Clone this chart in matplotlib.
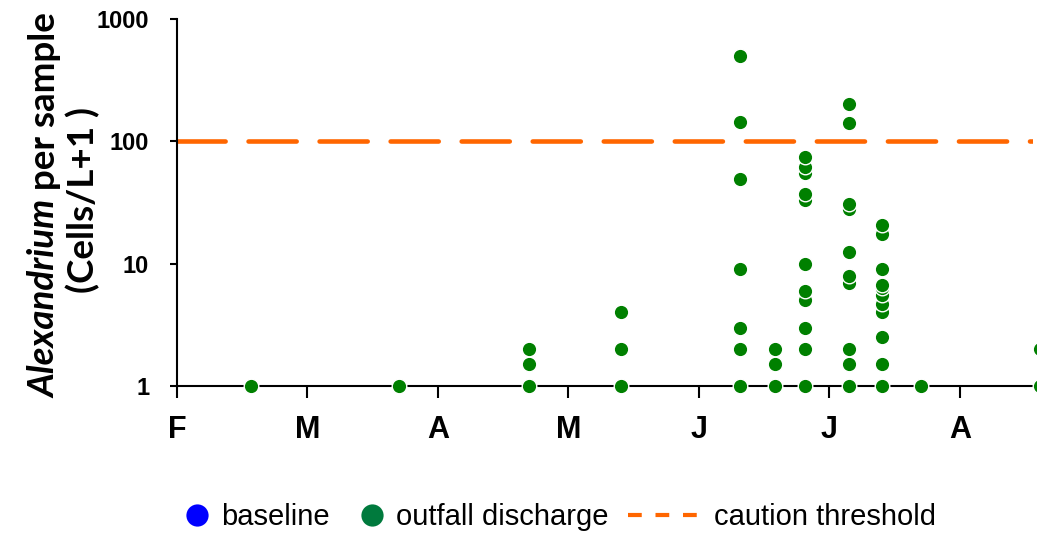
import matplotlib
matplotlib.use("Agg")
import matplotlib.pyplot as plt
from matplotlib.lines import Line2D

# days counted from the first axis tick (early Feb), one entry per survey
survey_day = [17, 51, 81, 102, 129.5, 137.5, 144.5, 154.5, 162, 171, 198.5]
# Alexandrium cells/L + 1 for each sample of the survey (outfall discharge)
survey_cells = [
    [1],
    [1],
    [1, 1.5, 2],
    [1, 2, 4],
    [1, 2, 3, 9, 49, 145, 500],
    [1, 1.5, 2],
    [1, 2, 3, 5, 6, 10, 33, 37, 55, 62, 74],
    [1, 1.5, 2, 7, 8, 12.5, 28, 31, 140, 203],
    [1, 1.5, 2.5, 4, 4.7, 5.5, 6.3, 6.7, 9, 17.6, 20.6],
    [1],
    [1, 2],
]
baseline_day = []
baseline_cells = []
caution_threshold = 100

month_ticks = [0, 30, 60, 90, 120, 150, 180]
month_labels = ['F', 'M', 'A', 'M', 'J', 'J', 'A']

outfall_x = []
outfall_y = []
for d, vals in zip(survey_day, survey_cells):
    for v in vals:
        outfall_x.append(d)
        outfall_y.append(v)

fig = plt.figure(figsize=(10.37, 5.33), dpi=100)
ax = fig.add_axes([0.1707, 0.2758, 0.8254, 0.6886])

ax.plot(baseline_day, baseline_cells, 'o', ms=10, mfc='#0000ff', mec='white', mew=1)
ax.plot(outfall_x, outfall_y, 'o', ms=10.5, mfc='#008000', mec='white', mew=1,
        clip_on=False, zorder=3)
ax.axhline(caution_threshold, color='#ff6600', lw=3.3, dashes=(10.5, 5),
           dash_capstyle='round', zorder=2)

ax.set_yscale('log')
ax.set_ylim(1, 1000)
ax.set_xlim(0, 196.8)
ax.set_yticks([1, 10, 100, 1000])
ax.set_yticklabels(['1', '10', '100', '1000'])
ax.minorticks_off()
ax.set_xticks(month_ticks)
ax.set_xticklabels(month_labels)

for s in ['top', 'right']:
    ax.spines[s].set_visible(False)
for s in ['left', 'bottom']:
    ax.spines[s].set_linewidth(1.5)

ax.tick_params(axis='y', direction='out', length=5, width=1.5, pad=15)
ax.tick_params(axis='x', direction='out', length=8.6, width=1.5, pad=12)
for lab in ax.get_yticklabels():
    lab.set_fontfamily('Liberation Sans')
    lab.set_fontweight('bold')
    lab.set_fontsize(17)
for lab in ax.get_xticklabels():
    lab.set_fontfamily('Liberation Sans')
    lab.set_fontweight('bold')
    lab.set_fontsize(22)

# y label, two lines, first word in italics
fig.canvas.draw()
r = fig.canvas.get_renderer()
yc = 1 - 205 / 533
t1 = fig.text(45 / 1037, yc, 'Alexandrium', rotation=90, fontfamily='Lato',
              fontweight='bold', fontstyle='italic', fontsize=26.5,
              ha='center', va='bottom')
t2 = fig.text(45 / 1037, yc, ' per sample', rotation=90, fontfamily='Lato',
              fontweight='bold', fontsize=26.5, ha='center', va='bottom')
h1 = t1.get_window_extent(r).height
h2 = t2.get_window_extent(r).height
start = yc * 533 - (h1 + h2) / 2
t1.set_y(start / 533)
t2.set_y((start + h1) / 533)
fig.text(83 / 1037, 1 - 200 / 533, '(Cells/L+1 )', rotation=90, fontfamily='Lato',
         fontweight='bold', fontsize=26.5, ha='center', va='center')

# legend, one entry per box so the handle widths can differ
leg_font = {'family': 'Liberation Sans', 'size': 21}
entries = [
    (Line2D([], [], marker='o', ls='none', ms=16, mfc='#0000ff', mec='none'), 'baseline', 185, 0.8),
    (Line2D([], [], marker='o', ls='none', ms=16, mfc='#007a3d', mec='none'), 'outfall discharge', 360, 0.8),
    (Line2D([], [], color='#ff6600', lw=3, dashes=(3.3, 3.3)), 'caution threshold', 628, 2.5),
]
for handle, label, xpix, hl in entries:
    lg = fig.legend([handle], [label], loc='center left',
                    bbox_to_anchor=(xpix / 1037, 1 - 517 / 533), frameon=False,
                    prop=leg_font, handlelength=hl, handletextpad=0.45,
                    borderaxespad=0, borderpad=0, numpoints=1)

fig.savefig('out.png', dpi=100)
